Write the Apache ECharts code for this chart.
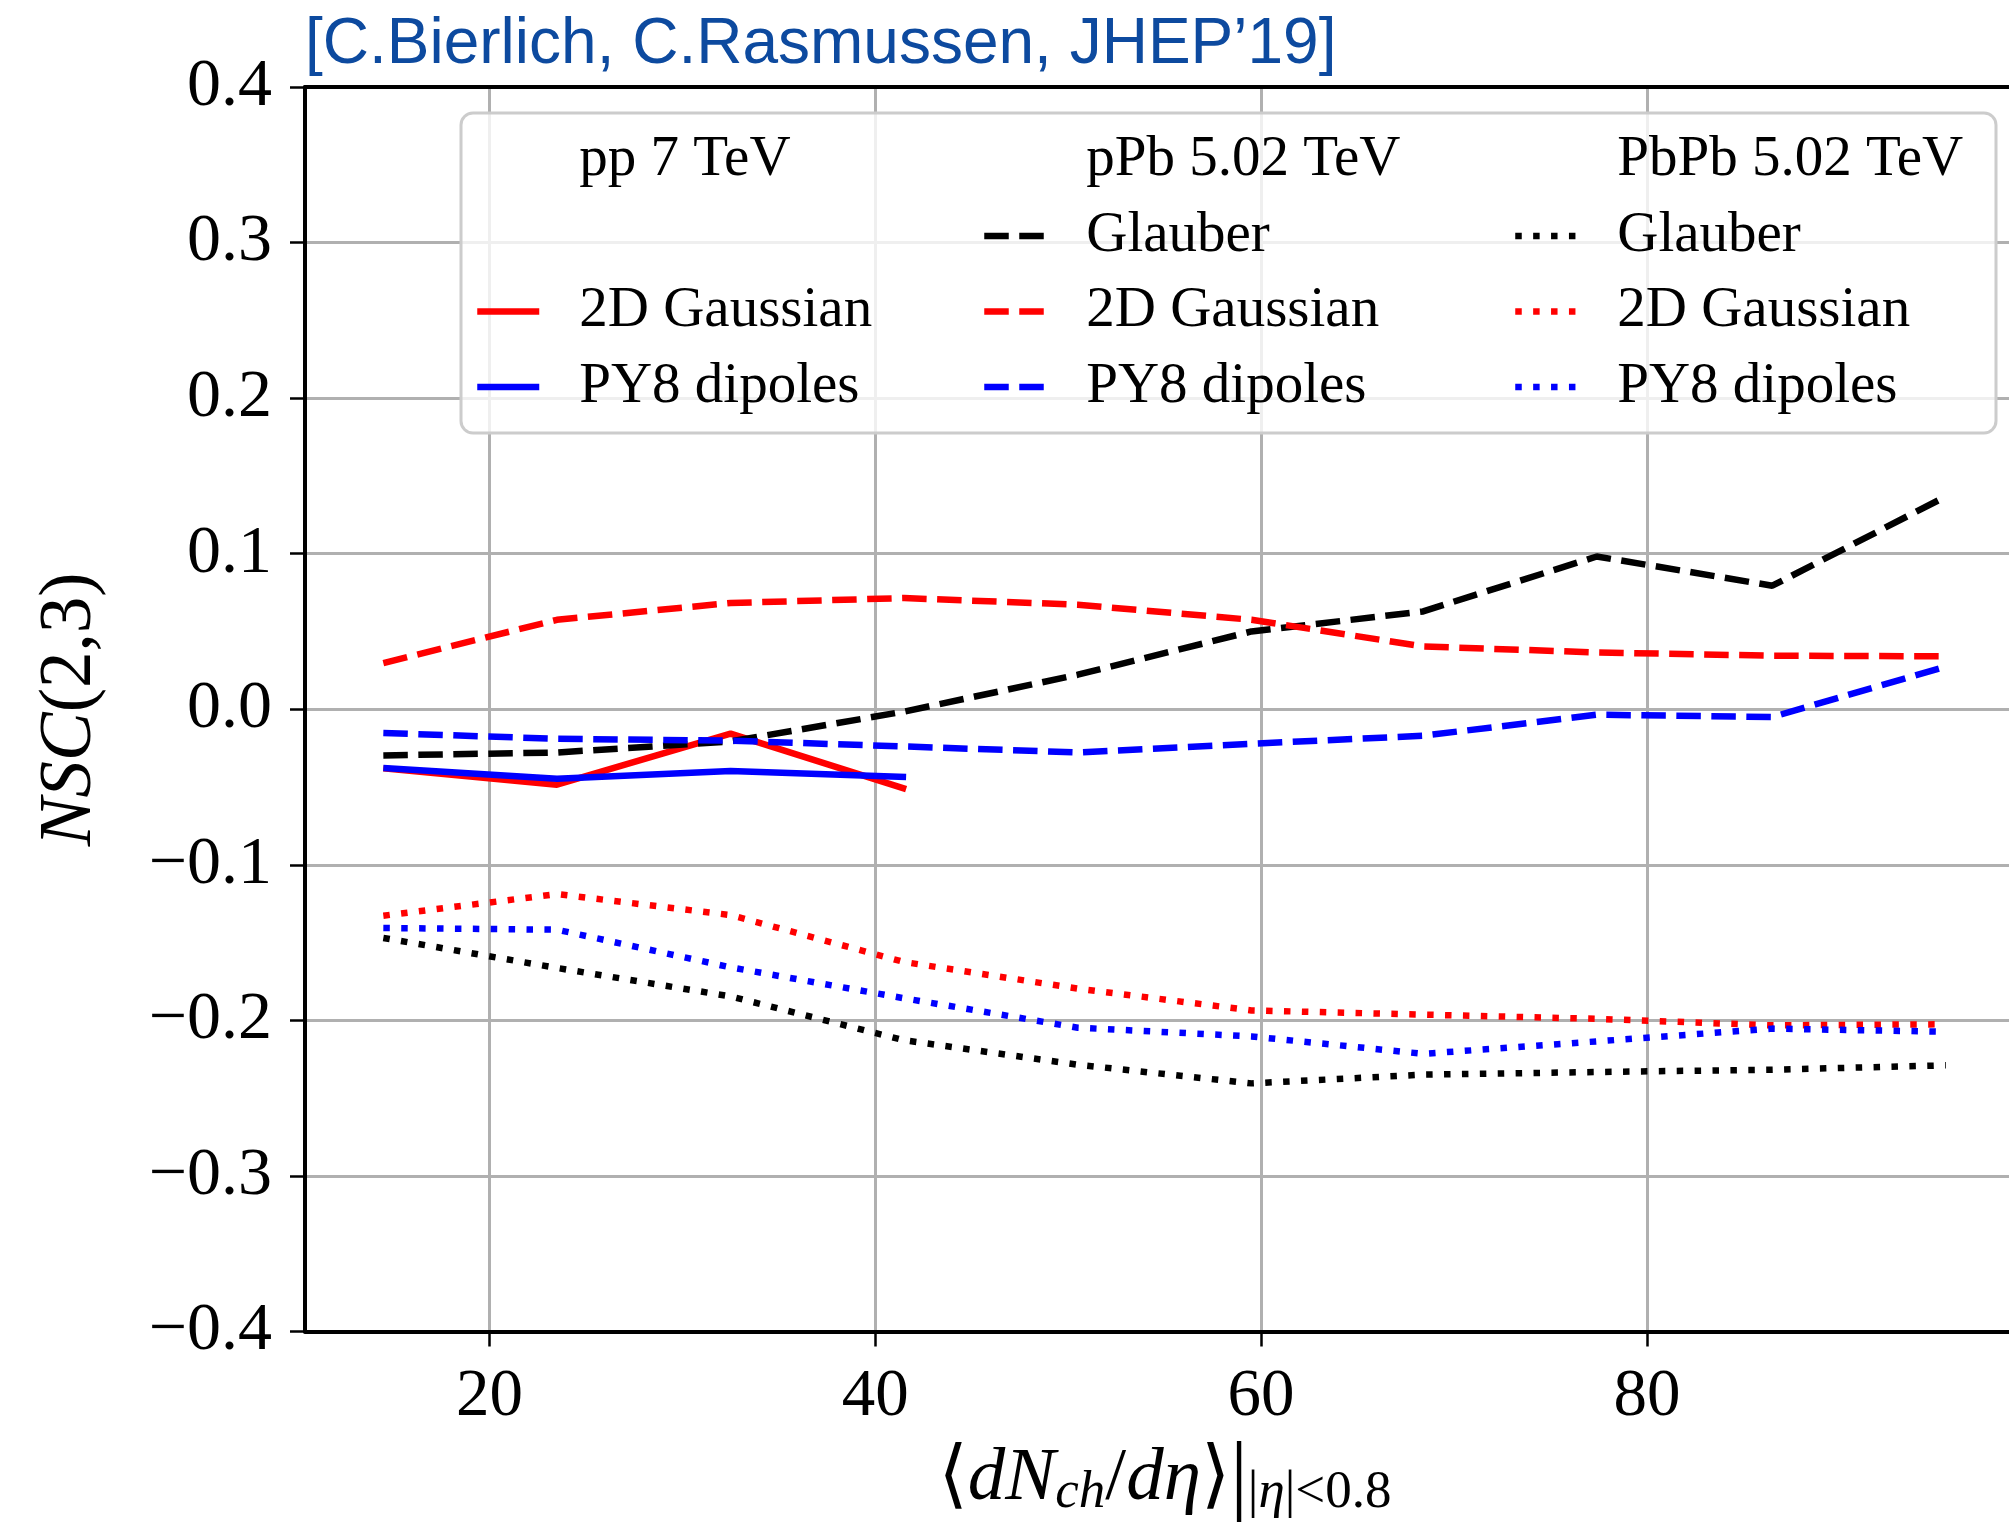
<!DOCTYPE html>
<html><head><meta charset="utf-8">
<script src="https://cdn.jsdelivr.net/npm/echarts@6/dist/echarts.min.js"></script>
<style>html,body{margin:0;padding:0;background:#fff}#c{width:2009px;height:1525px}</style>
</head><body><div id="c"></div>
<script>
// ---- data ----
const xPP = [14.5, 23.5, 32.5, 41.6];
const xAA = [14.5, 23.5, 32.5, 41.5, 50.5, 59.5, 68.4, 77.4, 86.5, 95.5];

const ppGaussian = [-0.038, -0.0485, -0.0157, -0.0513];
const ppDipoles  = [-0.0378, -0.0447, -0.0397, -0.0436];

const pPbGlauber  = [-0.0297, -0.0278, -0.0207, -0.0015, 0.0222, 0.050, 0.0629, 0.0982, 0.0794, 0.1368];
const pPbGaussian = [0.0297, 0.0575, 0.0683, 0.0715, 0.0672, 0.0575, 0.0404, 0.0365, 0.0344, 0.034];
const pPbDipoles  = [-0.0153, -0.019, -0.0202, -0.0239, -0.0278, -0.0222, -0.017, -0.0035, -0.005, 0.0275];

const PbPbGlauber  = [-0.147, -0.1663, -0.1846, -0.2128, -0.2285, -0.2405, -0.2349, -0.2332, -0.2317, -0.2289];
const PbPbGaussian = [-0.1327, -0.1188, -0.1323, -0.1625, -0.1796, -0.1936, -0.1963, -0.1990, -0.2032, -0.2025];
const PbPbDipoles  = [-0.1406, -0.1417, -0.1659, -0.1858, -0.2047, -0.2103, -0.2215, -0.2135, -0.2053, -0.2073];

const xTickValues = [20, 40, 60, 80];
const legendCols = [
  ['pp 7 TeV', 'pp_blank', 'pp 2D Gaussian', 'pp PY8 dipoles'],
  ['pPb 5.02 TeV', 'pPb Glauber', 'pPb 2D Gaussian', 'pPb PY8 dipoles'],
  ['PbPb 5.02 TeV', 'PbPb Glauber', 'PbPb 2D Gaussian', 'PbPb PY8 dipoles']
];
const legendLabels = {
  'pp 7 TeV': 'pp 7 TeV', 'pp_blank': '\u00a0', 'pp 2D Gaussian': '2D Gaussian', 'pp PY8 dipoles': 'PY8 dipoles',
  'pPb 5.02 TeV': 'pPb 5.02 TeV', 'pPb Glauber': 'Glauber', 'pPb 2D Gaussian': '2D Gaussian', 'pPb PY8 dipoles': 'PY8 dipoles',
  'PbPb 5.02 TeV': 'PbPb 5.02 TeV', 'PbPb Glauber': 'Glauber', 'PbPb 2D Gaussian': '2D Gaussian', 'PbPb PY8 dipoles': 'PY8 dipoles'
};

// ---- styling ----
const SERIF = "'Liberation Serif','DejaVu Serif',serif";
const LW = 6.5;
const DASH = [24.5, 10.5];
const DOT = [6.5, 11.4];
const X_MIN = 10.44, X_MAX = 98.77;

function pairs(xs, ys) { return xs.map((x, i) => [x, ys[i]]); }
function line(name, xs, ys, color, type) {
  return {
    name, type: 'line', data: pairs(xs, ys), symbol: 'none', z: 2,
    lineStyle: { color, width: LW, type, cap: 'butt' }, itemStyle: { color },
    emphasis: { disabled: true }, animation: false
  };
}
function dummy(name) {
  return { name, type: 'line', data: [], symbol: 'none',
    lineStyle: { color: 'rgba(0,0,0,0)', width: LW }, itemStyle: { color: 'rgba(0,0,0,0)' } };
}

const series = [
  dummy('pp 7 TeV'), dummy('pp_blank'),
  line('pp 2D Gaussian', xPP, ppGaussian, '#ff0000', 'solid'),
  line('pp PY8 dipoles', xPP, ppDipoles, '#0000ff', 'solid'),
  dummy('pPb 5.02 TeV'),
  line('pPb Glauber', xAA, pPbGlauber, '#000000', DASH),
  line('pPb 2D Gaussian', xAA, pPbGaussian, '#ff0000', DASH),
  line('pPb PY8 dipoles', xAA, pPbDipoles, '#0000ff', DASH),
  dummy('PbPb 5.02 TeV'),
  line('PbPb Glauber', xAA, PbPbGlauber, '#000000', DOT),
  line('PbPb 2D Gaussian', xAA, PbPbGaussian, '#ff0000', DOT),
  line('PbPb PY8 dipoles', xAA, PbPbDipoles, '#0000ff', DOT)
];

const legendLefts = [474, 981, 1512];
const legends = legendCols.map((col, i) => ({
  data: col, orient: 'vertical', left: legendLefts[i], top: 132, padding: 0,
  itemWidth: 62, itemHeight: 57, itemGap: 18.5, selectedMode: false,
  formatter: n => legendLabels[n],
  textStyle: { fontFamily: SERIF, fontSize: 57, color: '#000', padding: [0, 0, 0, 35] },
  lineStyle: { width: LW },
  itemStyle: { opacity: 0 }
}));

const chart = echarts.init(document.getElementById('c'), null, { renderer: 'canvas' });
chart.setOption({
  animation: false,
  backgroundColor: '#ffffff',
  title: {
    text: '[C.Bierlich, C.Rasmussen, JHEP\u201919]', left: 305, top: 13, padding: 0,
    textStyle: { fontFamily: "'Liberation Sans',Arial,sans-serif", fontSize: 64, fontWeight: 'normal', color: '#0d4a9f' }
  },
  grid: { left: 305, top: 87, right: 0, bottom: 193.5, containLabel: false, outerBoundsMode: 'none' },
  legend: legends,
  graphic: [{
    type: 'rect', z: 3, silent: true,
    shape: { x: 461, y: 113, width: 1535, height: 320, r: 12 },
    style: { fill: 'rgba(255,255,255,0.8)', stroke: '#cccccc', lineWidth: 3 }
  }],
  xAxis: [{
    type: 'value', min: X_MIN, max: X_MAX, z: 1,
    axisLine: { show: true, onZero: false, lineStyle: { color: '#000', width: 4 } },
    axisTick: { show: true, customValues: xTickValues, length: 15, lineStyle: { color: '#000', width: 2.5 } },
    axisLabel: { customValues: xTickValues, margin: 32, fontFamily: SERIF, fontSize: 67, color: '#000' },
    splitLine: { show: true, lineStyle: { color: '#b0b0b0', width: 3 } },
    name: '{rm|\u27e8}{it|dN}{sub|ch}{rm|/}{it|d\u03b7}{rm|\u27e9}{bar||}{subr||}{subi|\u03b7}{subr||<0.8}',
    nameLocation: 'middle', nameGap: 102,
    nameTextStyle: {
      fontFamily: SERIF, fontSize: 75, color: '#000', padding: [0, 0, 0, 16],
      rich: {
        rm: { fontFamily: SERIF, fontSize: 75, lineHeight: 80, color: '#000' },
        it: { fontFamily: SERIF, fontSize: 75, lineHeight: 80, fontStyle: 'italic', color: '#000' },
        bar: { fontFamily: SERIF, fontSize: 88, lineHeight: 80, color: '#000' },
        sub: { fontFamily: SERIF, fontSize: 53, lineHeight: 50, fontStyle: 'italic', padding: [28, 0, 0, 0], color: '#000' },
        subr: { fontFamily: SERIF, fontSize: 53, lineHeight: 50, padding: [28, 0, 0, 0], color: '#000' },
        subi: { fontFamily: SERIF, fontSize: 53, lineHeight: 50, fontStyle: 'italic', padding: [28, 0, 0, 0], color: '#000' }
      }
    }
  }, {
    type: 'value', min: X_MIN, max: X_MAX, position: 'top', z: 1,
    axisLine: { show: true, onZero: false, lineStyle: { color: '#000', width: 4 } },
    axisTick: { show: false }, axisLabel: { show: false }, splitLine: { show: false }
  }],
  yAxis: {
    type: 'value', min: -0.4, max: 0.4, interval: 0.1,
    axisLine: { show: true, onZero: false, lineStyle: { color: '#000', width: 4 } },
    axisTick: { show: true, length: 15, lineStyle: { color: '#000', width: 2.5 } },
    axisLabel: {
      margin: 33, fontFamily: SERIF, fontSize: 68, color: '#000',
      formatter: v => Math.abs(v) < 1e-9 ? '0.0' : (v < 0 ? '\u2212' : '') + Math.abs(v).toFixed(1)
    },
    splitLine: { show: true, lineStyle: { color: '#b0b0b0', width: 3 } },
    name: '{it|NSC}{rm|(2,3)}', nameLocation: 'middle', nameGap: 198,
    nameTextStyle: {
      fontFamily: SERIF, fontSize: 73, color: '#000',
      rich: {
        it: { fontFamily: SERIF, fontSize: 73, fontStyle: 'italic', color: '#000' },
        rm: { fontFamily: SERIF, fontSize: 73, color: '#000' }
      }
    }
  },
  series
});
</script></body></html>
